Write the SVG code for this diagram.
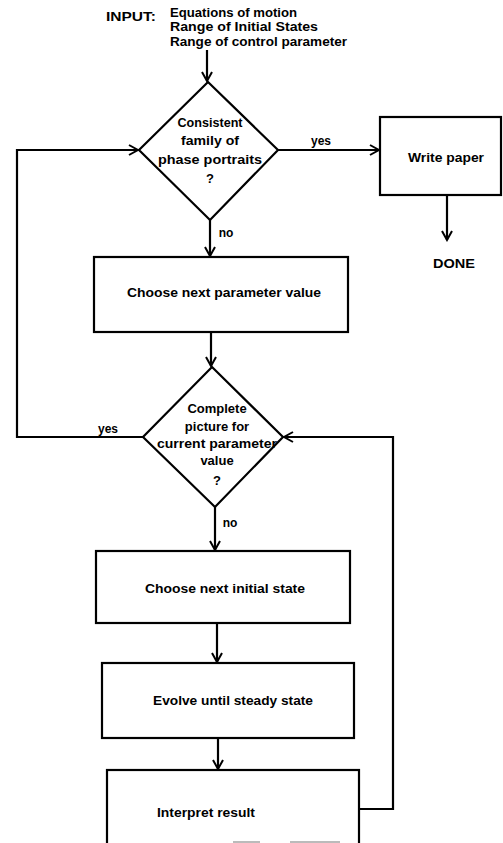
<svg xmlns="http://www.w3.org/2000/svg" width="503" height="843" viewBox="0 0 503 843">
<defs>
<marker id="arr" markerWidth="12" markerHeight="12" refX="10" refY="6" orient="auto" markerUnits="userSpaceOnUse">
<path d="M1,1 L10,6 L1,11" fill="none" stroke="#000" stroke-width="2"/>
</marker>
<style>
.n{fill:#fff;stroke:#000;stroke-width:2.2}
.c{fill:none;stroke:#000;stroke-width:2.2}
.t{font-family:"Liberation Sans",Arial,sans-serif;font-weight:bold;font-size:13px;fill:#000;text-anchor:middle}
.s{font-size:12px}
.l{text-anchor:start}
.f{stroke:#bbb;stroke-width:2}
</style>
</defs>
<rect width="503" height="843" fill="#fff"/>
<g id="input">
<text class="t l" x="106" y="21" textLength="50" lengthAdjust="spacingAndGlyphs">INPUT:</text>
<text class="t s l" x="170" y="17" textLength="127" lengthAdjust="spacingAndGlyphs">Equations of motion</text>
<text class="t s l" x="170" y="31" textLength="148" lengthAdjust="spacingAndGlyphs">Range of Initial States</text>
<text class="t s l" x="170" y="46" textLength="177" lengthAdjust="spacingAndGlyphs">Range of control parameter</text>
</g>
<g id="connectors">
<line class="c" x1="207" y1="50" x2="207" y2="81" marker-end="url(#arr)"/>
<line class="c" x1="278" y1="150" x2="379" y2="150" marker-end="url(#arr)"/>
<line class="c" x1="447" y1="195" x2="447" y2="240" marker-end="url(#arr)"/>
<line class="c" x1="210" y1="220" x2="210" y2="256" marker-end="url(#arr)"/>
<line class="c" x1="211" y1="332" x2="211" y2="366" marker-end="url(#arr)"/>
<polyline class="c" points="143,437 17,437 17,150 138,150" marker-end="url(#arr)"/>
<line class="c" x1="215" y1="507" x2="215" y2="550" marker-end="url(#arr)"/>
<line class="c" x1="217" y1="623" x2="217" y2="662" marker-end="url(#arr)"/>
<line class="c" x1="218" y1="738" x2="218" y2="769" marker-end="url(#arr)"/>
<polyline class="c" points="359,809 393,809 393,437 284,437" marker-end="url(#arr)"/>
<text class="t s" x="321" y="145">yes</text>
<text class="t s" x="108" y="433">yes</text>
<text class="t s" x="226" y="237">no</text>
<text class="t s" x="230" y="527">no</text>
</g>
<g id="d1">
<polygon class="n" points="208,82 278,150 210,220 139,150"/>
<text class="t" x="210" y="127" textLength="65" lengthAdjust="spacingAndGlyphs">Consistent</text>
<text class="t" x="210" y="145" textLength="58" lengthAdjust="spacingAndGlyphs">family of</text>
<text class="t" x="210" y="164" textLength="104" lengthAdjust="spacingAndGlyphs">phase portraits</text>
<text class="t" x="210" y="183">?</text>
</g>
<g id="write">
<rect class="n" x="380" y="117" width="121" height="78"/>
<text class="t" x="446" y="162" textLength="76" lengthAdjust="spacingAndGlyphs">Write paper</text>
</g>
<g id="done">
<text class="t" x="454" y="268" textLength="42" lengthAdjust="spacingAndGlyphs">DONE</text>
</g>
<g id="b1">
<rect class="n" x="94" y="257" width="254" height="75"/>
<text class="t" x="224" y="297" textLength="194" lengthAdjust="spacingAndGlyphs">Choose next parameter value</text>
</g>
<g id="d2">
<polygon class="n" points="212,367 283,437 215,507 143,437"/>
<text class="t" x="217" y="413">Complete</text>
<text class="t" x="217" y="431">picture for</text>
<text class="t" x="217" y="448" textLength="120" lengthAdjust="spacingAndGlyphs">current parameter</text>
<text class="t" x="217" y="465">value</text>
<text class="t" x="217" y="485">?</text>
</g>
<g id="b2">
<rect class="n" x="96" y="551" width="254" height="72"/>
<text class="t" x="225" y="593" textLength="160" lengthAdjust="spacingAndGlyphs">Choose next initial state</text>
</g>
<g id="b3">
<rect class="n" x="102" y="663" width="252" height="75"/>
<text class="t" x="233" y="705" textLength="160" lengthAdjust="spacingAndGlyphs">Evolve until steady state</text>
</g>
<g id="b4">
<rect class="n" x="107" y="770" width="252" height="76"/>
<line class="f" x1="233" y1="842" x2="260" y2="842"/>
<line class="f" x1="290" y1="842" x2="340" y2="842"/>
<text class="t" x="206" y="817" textLength="98" lengthAdjust="spacingAndGlyphs">Interpret result</text>
</g>
</svg>
